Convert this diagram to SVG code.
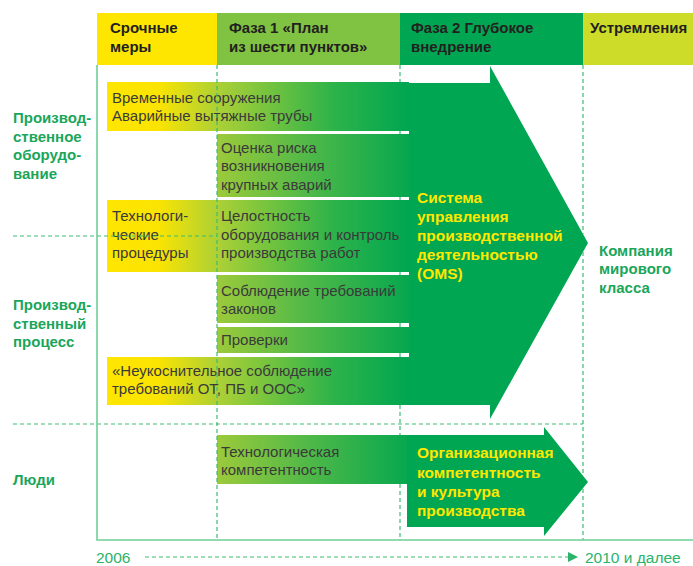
<svg xmlns="http://www.w3.org/2000/svg" width="693" height="566" viewBox="0 0 693 566">
<defs>
<linearGradient id="gY" gradientUnits="userSpaceOnUse" x1="107" y1="0" x2="409" y2="0">
<stop offset="0" stop-color="#ffe600"/>
<stop offset="0.17" stop-color="#fbe402"/>
<stop offset="0.37" stop-color="#abd036"/>
<stop offset="0.75" stop-color="#2db34a"/>
<stop offset="1" stop-color="#00a651"/>
</linearGradient>
<linearGradient id="gG" gradientUnits="userSpaceOnUse" x1="217" y1="0" x2="409" y2="0">
<stop offset="0" stop-color="#9cca3b"/>
<stop offset="0.5" stop-color="#4cb848"/>
<stop offset="1" stop-color="#06a74f"/>
</linearGradient>
<marker id="ah" viewBox="0 0 10 10" refX="9" refY="5" markerWidth="10" markerHeight="10" markerUnits="userSpaceOnUse" orient="auto">
<path d="M0,0 L10,5 L0,10 z" fill="#2bb36a"/>
</marker>
<style>
.hd{font-family:"Liberation Sans",Arial,sans-serif;font-size:15px;font-weight:bold;fill:#231f20}
.lb{font-family:"Liberation Sans",Arial,sans-serif;font-size:15px;font-weight:bold;fill:#1aa65a}
.tx{font-family:"Liberation Sans",Arial,sans-serif;font-size:15px;fill:#3a3a3a}
.yb{font-family:"Liberation Sans",Arial,sans-serif;font-size:15.5px;font-weight:bold;fill:#ffe800}
.yr{font-family:"Liberation Sans",Arial,sans-serif;font-size:15.5px;fill:#2bb36a}
.dash{stroke:#3dbb73;stroke-width:1.2;stroke-dasharray:4 3;fill:none}
.solid{stroke:#6fcf98;stroke-width:1.6;fill:none}
</style>
</defs>

<g id="header">
<rect x="97" y="13" width="120" height="52" fill="#ffe600"/>
<rect x="217" y="13" width="183" height="52" fill="#80c342"/>
<rect x="400" y="13" width="183" height="52" fill="#00a651"/>
<rect x="583" y="13" width="110" height="52" fill="#cddc28"/>
<text class="hd" x="110" y="33">Срочные</text>
<text class="hd" x="110" y="52">меры</text>
<text class="hd" x="229" y="33">Фаза 1 «План</text>
<text class="hd" x="229" y="52">из шести пунктов»</text>
<text class="hd" x="411" y="33">Фаза 2 Глубокое</text>
<text class="hd" x="411" y="52">внедрение</text>
<text class="hd" x="590" y="33">Устремления</text>
</g>

<g id="row-labels">
<text class="lb" x="13" y="123">Производ-</text>
<text class="lb" x="13" y="142">ственное</text>
<text class="lb" x="13" y="160">оборудо-</text>
<text class="lb" x="13" y="179">вание</text>
<text class="lb" x="13" y="310">Производ-</text>
<text class="lb" x="13" y="329">ственный</text>
<text class="lb" x="13" y="347">процесс</text>
<text class="lb" x="13" y="485">Люди</text>
</g>

<g id="arrow-oms">
<polygon points="409,83 490,83 490,66 588,243 490,419 490,405 409,405" fill="#00a651"/>
<text class="yb" x="417" y="203">Система</text>
<text class="yb" x="417" y="222">управления</text>
<text class="yb" x="417" y="241">производственной</text>
<text class="yb" x="417" y="260">деятельностью</text>
<text class="yb" x="417" y="279">(OMS)</text>
</g>

<g id="arrow-culture">
<polygon points="407,435 544,435 544,427 588,482 544,536 544,527 407,527" fill="#00a651"/>
<text class="yb" x="417" y="458">Организационная</text>
<text class="yb" x="417" y="478">компетентность</text>
<text class="yb" x="417" y="497">и культура</text>
<text class="yb" x="417" y="516">производства</text>
</g>

<g id="box-temp">
<rect x="107" y="82" width="302" height="49" fill="url(#gY)"/>
<text class="tx" x="112" y="103">Временные сооружения</text>
<text class="tx" x="112" y="121">Аварийные вытяжные трубы</text>
</g>
<g id="box-risk">
<rect x="217" y="134" width="192" height="63" fill="url(#gG)"/>
<text class="tx" x="221" y="153">Оценка риска</text>
<text class="tx" x="221" y="171">возникновения</text>
<text class="tx" x="221" y="190">крупных аварий</text>
</g>
<g id="box-proc">
<rect x="107" y="200" width="302" height="72" fill="url(#gY)"/>
<text class="tx" x="112" y="221">Технологи-</text>
<text class="tx" x="112" y="240">ческие</text>
<text class="tx" x="112" y="258">процедуры</text>
<text class="tx" x="221" y="221">Целостность</text>
<text class="tx" x="221" y="240">оборудования и контроль</text>
<text class="tx" x="221" y="258">производства работ</text>
</g>
<g id="box-law">
<rect x="217" y="275" width="192" height="48" fill="url(#gG)"/>
<text class="tx" x="221" y="296">Соблюдение требований</text>
<text class="tx" x="221" y="314">законов</text>
</g>
<g id="box-check">
<rect x="217" y="327" width="192" height="26" fill="url(#gG)"/>
<text class="tx" x="221" y="345">Проверки</text>
</g>
<g id="box-strict">
<rect x="107" y="357" width="302" height="48" fill="url(#gY)"/>
<text class="tx" x="112" y="376">«Неукоснительное соблюдение</text>
<text class="tx" x="112" y="394">требований ОТ, ПБ и ООС»</text>
</g>
<g id="box-tech">
<rect x="217" y="435" width="190" height="49" fill="url(#gG)"/>
<text class="tx" x="221" y="457">Технологическая</text>
<text class="tx" x="221" y="475">компетентность</text>
</g>

<g id="goal">
<text class="lb" x="599" y="256">Компания</text>
<text class="lb" x="599" y="274">мирового</text>
<text class="lb" x="599" y="293">класса</text>
</g>

<g id="connectors">
<line class="dash" x1="217" y1="65" x2="217" y2="540"/>
<path class="dash" d="M400,65V82 M400,131V134 M400,197V200 M400,272V275 M400,323V327 M400,353V357 M400,405V435 M400,484V540"/>
<path class="dash" d="M583,65V234 M583,252V476 M583,489V540"/>
<line class="dash" x1="13" y1="236" x2="217" y2="236"/>
<line class="dash" x1="13" y1="424" x2="583" y2="424"/>
<polyline class="solid" points="97,65 97,540 693,540"/>
<line class="dash" x1="145" y1="557" x2="577" y2="557" marker-end="url(#ah)"/>
</g>

<g id="timeline">
<text class="yr" x="96" y="563">2006</text>
<text class="yr" x="585" y="563">2010 и далее</text>
</g>
</svg>
